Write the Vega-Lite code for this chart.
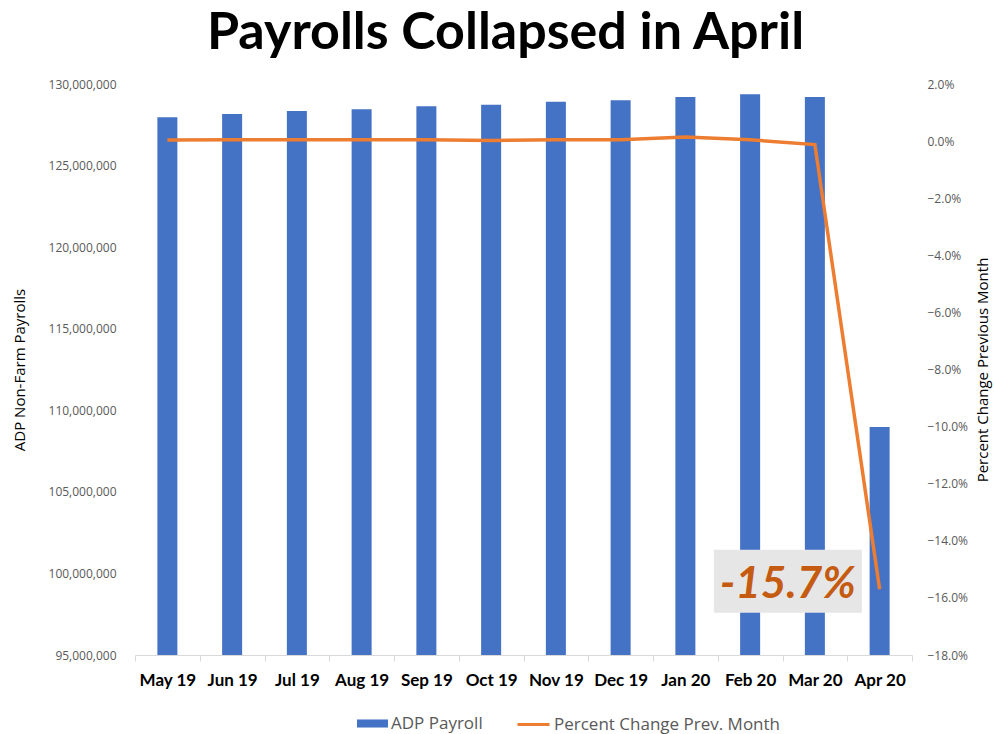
{
  "$schema": "https://vega.github.io/schema/vega-lite/v6.json",
  "width": 777,
  "height": 571,
  "autosize": {"type": "none"},
  "padding": {"left": 135, "top": 84, "right": 82, "bottom": 79},
  "background": "white",
  "title": {
    "text": "Payrolls Collapsed in April",
    "font": "Lato",
    "fontSize": 52,
    "fontWeight": "bold",
    "color": "#000000",
    "anchor": "middle",
    "baseline": "bottom",
    "offset": -34,
    "dx": -18
  },
  "config": {
    "view": {"stroke": null},
    "axis": {"grid": false, "labelFont": "Open Sans", "titleFont": "Open Sans"},
    "legend": {"labelFont": "Open Sans"}
  },
  "data": {
    "values": [
      {"month": "May 19", "payroll": 127960000, "pct": 0.00035},
      {"month": "Jun 19", "payroll": 128160000, "pct": 0.00045},
      {"month": "Jul 19", "payroll": 128340000, "pct": 0.00045},
      {"month": "Aug 19", "payroll": 128450000, "pct": 0.00045},
      {"month": "Sep 19", "payroll": 128630000, "pct": 0.00045},
      {"month": "Oct 19", "payroll": 128730000, "pct": 0.00025},
      {"month": "Nov 19", "payroll": 128910000, "pct": 0.00045},
      {"month": "Dec 19", "payroll": 129000000, "pct": 0.00045},
      {"month": "Jan 20", "payroll": 129200000, "pct": 0.0014},
      {"month": "Feb 20", "payroll": 129370000, "pct": 0.00045},
      {"month": "Mar 20", "payroll": 129200000, "pct": -0.0012},
      {"month": "Apr 20", "payroll": 108970000, "pct": -0.157}
    ]
  },
  "encoding": {
    "x": {
      "field": "month",
      "type": "ordinal",
      "title": null,
      "scale": {
        "domain": ["May 19", "Jun 19", "Jul 19", "Aug 19", "Sep 19", "Oct 19", "Nov 19", "Dec 19", "Jan 20", "Feb 20", "Mar 20", "Apr 20"],
        "paddingInner": 0,
        "paddingOuter": 0
      },
      "axis": {
        "labelAngle": 0,
        "labelFont": "Lato",
        "labelFontSize": 17,
        "labelFontWeight": "bold",
        "labelColor": "#000000",
        "labelPadding": 11,
        "tickBand": "extent",
        "tickColor": "#D9D9D9",
        "tickSize": 6,
        "domainColor": "#D9D9D9",
        "domainWidth": 1
      }
    }
  },
  "layer": [
    {
      "mark": {"type": "bar", "width": 20, "clip": true},
      "encoding": {
        "y": {
          "field": "payroll",
          "type": "quantitative",
          "scale": {"domain": [95000000, 130000000], "zero": false, "nice": false},
          "axis": {
            "orient": "left",
            "title": "ADP Non-Farm Payrolls",
            "values": [95000000, 100000000, 105000000, 110000000, 115000000, 120000000, 125000000, 130000000],
            "format": ",d",
            "domain": false,
            "ticks": false,
            "labelPadding": 19,
            "labelFontSize": 12,
            "labelColor": "#595959",
            "titleFontSize": 15,
            "titleFontWeight": "normal",
            "titleColor": "#000000",
            "titlePadding": 21
          }
        },
        "fill": {
          "datum": "ADP Payroll",
          "type": "nominal",
          "scale": {"range": ["#4472C4"]},
          "legend": {
            "orient": "none",
            "legendX": 222,
            "legendY": 624,
            "title": null,
            "symbolType": "M-1,-0.26H1V0.26H-1Z",
            "symbolSize": 961,
            "symbolStrokeWidth": 0,
            "labelFontSize": 17,
            "labelColor": "#595959",
            "labelLimit": 400,
            "padding": 0,
            "labelOffset": 3
          }
        }
      }
    },
    {
      "encoding": {
        "y": {
          "field": "pct",
          "type": "quantitative",
          "scale": {"domain": [-0.18, 0.02], "zero": false, "nice": false},
          "axis": {
            "orient": "right",
            "title": "Percent Change Previous Month",
            "values": [-0.18, -0.16, -0.14, -0.12, -0.1, -0.08, -0.06, -0.04, -0.02, 0, 0.02],
            "format": ".1%",
            "domain": false,
            "ticks": false,
            "labelPadding": 15,
            "labelFontSize": 12,
            "labelColor": "#595959",
            "titleFontSize": 15,
            "titleFontWeight": "normal",
            "titleColor": "#000000",
            "titleAngle": -90,
            "titlePadding": 23
          }
        }
      },
      "layer": [
        {
          "data": {"values": [{"month": "Mar 20", "pct": -0.157, "label": "-15.7%"}]},
          "mark": {
            "type": "point",
            "shape": "M-1,-0.4257H1V0.4257H-1Z",
            "size": 21904,
            "filled": true,
            "opacity": 1,
            "color": "#E7E6E6",
            "xOffset": -27,
            "yOffset": -8
          }
        },
        {
          "data": {"values": [{"month": "Mar 20", "pct": -0.157, "label": "-15.7%"}]},
          "mark": {
            "type": "text",
            "font": "Lato",
            "fontSize": 44,
            "fontWeight": "bold",
            "fontStyle": "italic",
            "color": "#C55A11",
            "align": "center",
            "baseline": "middle",
            "xOffset": -27,
            "yOffset": -4
          },
          "encoding": {"text": {"field": "label", "type": "nominal"}}
        },
        {
          "mark": {"type": "line", "strokeWidth": 3.5},
          "encoding": {
            "stroke": {
              "datum": "Percent Change Prev. Month",
              "type": "nominal",
              "scale": {"range": ["#ED7D31"]},
              "legend": {
                "orient": "none",
                "legendX": 381,
                "legendY": 623,
                "title": null,
                "symbolType": "stroke",
                "symbolSize": 1024,
                "symbolStrokeWidth": 3,
                "labelFontSize": 17,
                "labelColor": "#595959",
                "labelLimit": 400,
                "padding": 0,
                "labelOffset": 3
              }
            }
          }
        }
      ]
    }
  ],
  "resolve": {"scale": {"y": "independent"}}
}
